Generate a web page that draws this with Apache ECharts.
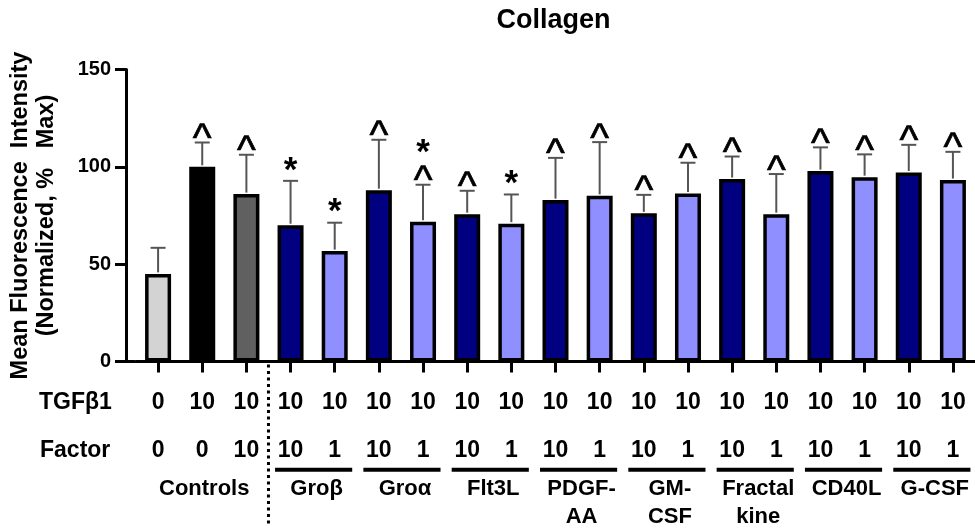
<!DOCTYPE html>
<html>
<head>
<meta charset="utf-8">
<script src="https://cdn.jsdelivr.net/npm/echarts@6/dist/echarts.min.js"></script>
<style>
html,body{margin:0;padding:0;background:#fff;}
#chart{width:975px;height:531px;}
</style>
</head>
<body>
<div id="chart"></div>
<script>
// ---- data ----
const categories = ['C1','C2','C3','Groβ10','Groβ1','Groα10','Groα1','Flt3L10','Flt3L1','PDGF10','PDGF1','GM10','GM1','Frac10','Frac1','CD40L10','CD40L1','GCSF10','GCSF1'];
const tgfRow    = ['0','10','10','10','10','10','10','10','10','10','10','10','10','10','10','10','10','10','10'];
const factorRow = ['0','0','10','10','1','10','1','10','1','10','1','10','1','10','1','10','1','10','1'];
const means  = [45, 100, 86, 70, 56.7, 88, 71.8, 75.7, 70.8, 82.9, 85.1, 76.1, 86.3, 93.7, 75.7, 97.8, 94.7, 97.1, 93.2];
const errors = [13.4, 12.5, 20.2, 22.8, 14.6, 25.9, 19.0, 12.0, 15.0, 21.7, 27.6, 9.5, 15.8, 11.6, 20.6, 12.2, 11.7, 14.2, 14.5];
const marks  = [[], ['^'], ['^'], ['*'], ['*'], ['^'], ['*','^'], ['^'], ['*'], ['^'], ['^'], ['^'], ['^'], ['^'], ['^'], ['^'], ['^'], ['^'], ['^']];
const groupNames = ['Controls','Groβ','Groα','Flt3L','PDGF-\nAA','GM-\nCSF','Fractal\nkine','CD40L','G-CSF'];
const groupFrom  = [0, 3, 5, 7, 9, 11, 13, 15, 17];
const groupTo    = [2, 4, 6, 8, 10, 12, 14, 16, 18];
const yTicks = [0, 50, 100, 150];

// ---- styles ----
const FONT = '"Liberation Sans", Arial, sans-serif';
const controlColors = ['#d3d3d3', '#000000', '#606060'];
const highDoseColor = '#000080';
const lowDoseColor = '#8f8fff';
function barColor(i) {
  if (i < 3) return controlColors[i];
  return factorRow[i] === '10' ? highDoseColor : lowDoseColor;
}

const chart = echarts.init(document.getElementById('chart'), null, {renderer: 'canvas'});

const option = {
  animation: false,
  backgroundColor: '#fff',
  grid: [
    {left: 133, right: -1.5, top: 69.5, bottom: 169.5},
    {left: 121.5, width: 13, top: 69.5, bottom: 169.5}
  ],
  xAxis: [
    {
      type: 'category', gridIndex: 0, data: categories,
      axisLine: {show: true, lineStyle: {color: '#000', width: 3}},
      axisTick: {show: true, alignWithLabel: true, length: 11, lineStyle: {color: '#000', width: 3}},
      axisLabel: {
        interval: 0, margin: 17.6, color: '#000',
        formatter: (v, i) => '{a|' + tgfRow[i] + '}\n{b|' + factorRow[i] + '}',
        rich: {
          a: {fontFamily: FONT, fontWeight: 'bold', fontSize: 23, lineHeight: 47.8, color: '#000'},
          b: {fontFamily: FONT, fontWeight: 'bold', fontSize: 23, lineHeight: 47.8, color: '#000'}
        }
      },
      splitLine: {show: false}
    },
    {
      type: 'value', gridIndex: 1, min: 0, max: 1,
      axisLine: {show: true, onZero: false, lineStyle: {color: '#000', width: 3}},
      axisTick: {show: false}, axisLabel: {show: false}, splitLine: {show: false}
    }
  ],
  yAxis: [
    {
      type: 'value', gridIndex: 0, min: 0, max: 150, interval: 50, offset: 10,
      axisLine: {show: true, lineStyle: {color: '#000', width: 3}},
      axisTick: {show: true, length: 11, lineStyle: {color: '#000', width: 3}},
      axisLabel: {margin: 15, color: '#000', fontFamily: FONT, fontWeight: 'bold', fontSize: 20,
        formatter: v => yTicks.includes(v) ? String(v) : ''},
      splitLine: {show: false},
      name: 'Mean Fluorescence  Intensity\n(Normalized, %   Max)',
      nameLocation: 'middle', nameRotate: 90, nameGap: 66,
      nameTextStyle: {color: '#000', fontFamily: FONT, fontWeight: 'bold', fontSize: 23.5, lineHeight: 26}
    },
    {type: 'value', gridIndex: 1, show: false, min: 0, max: 150}
  ],
  graphic: [
    {type: 'text', x: 553.5, y: 21, style: {text: 'Collagen', fill: '#000', font: 'bold 27px ' + FONT, textAlign: 'center', textVerticalAlign: 'middle'}},
    {type: 'text', x: 39, y: 403, style: {text: 'TGFβ1', fill: '#000', font: 'bold 23px ' + FONT, textAlign: 'left', textVerticalAlign: 'middle'}},
    {type: 'text', x: 40, y: 450.8, style: {text: 'Factor', fill: '#000', font: 'bold 23px ' + FONT, textAlign: 'left', textVerticalAlign: 'middle'}}
  ],
  series: [
    {
      type: 'bar', xAxisIndex: 0, yAxisIndex: 0,
      data: means.map((v, i) => ({value: v, itemStyle: {color: barColor(i)}})),
      barWidth: 26,
      itemStyle: {borderColor: '#000', borderWidth: 3.5},
      z: 2
    },
    {
      // error bars (upper only)
      type: 'custom', xAxisIndex: 0, yAxisIndex: 0, z: 3, clip: false,
      data: means.map((v, i) => [i, v, errors[i]]),
      renderItem: (params, api) => {
        const i = api.value(0), m = api.value(1), e = api.value(2);
        const p0 = api.coord([i, m]);
        const p1 = api.coord([i, m + e]);
        const st = {stroke: '#555', lineWidth: 2};
        return {type: 'group', children: [
          {type: 'line', shape: {x1: p0[0], y1: p0[1] - 1.5, x2: p1[0], y2: p1[1]}, style: st},
          {type: 'line', shape: {x1: p1[0] - 7.5, y1: p1[1], x2: p1[0] + 7.5, y2: p1[1]}, style: st}
        ]};
      }
    },
    {
      // significance marks
      type: 'custom', xAxisIndex: 0, yAxisIndex: 0, z: 4, clip: false,
      data: means.map((v, i) => [i, v + errors[i]]),
      renderItem: (params, api) => {
        const i = api.value(0);
        const p = api.coord([i, api.value(1)]);
        const list = marks[params.dataIndex];
        const children = [];
        let y = p[1];
        for (let k = list.length - 1; k >= 0; k--) {
          const s = list[k];
          const isCaret = s === '^';
          let cy;
          if (k === list.length - 1) cy = y - (isCaret ? 14.5 : 18);
          else cy = y - 25;
          y = cy;
          children.push({type: 'text', x: p[0], y: cy + (isCaret ? 12 : 8),
            style: {text: s, fill: '#000', textAlign: 'center', textVerticalAlign: 'middle',
              stroke: isCaret ? '#000' : null, lineWidth: isCaret ? 0.7 : 0,
              font: (isCaret ? 'normal 40px ' : 'bold 35px ') + FONT}});
        }
        return {type: 'group', children};
      }
    },
    {
      // control separator (dotted)
      type: 'custom', xAxisIndex: 0, yAxisIndex: 0, z: 4, clip: false,
      data: [[2, 3]],
      renderItem: (params, api) => {
        const a = api.coord([api.value(0), 0]);
        const b = api.coord([api.value(1), 0]);
        const x = (a[0] + b[0]) / 2;
        return {type: 'line', shape: {x1: x, y1: a[1] + 3, x2: x, y2: a[1] + 164},
          style: {stroke: '#000', lineWidth: 3, lineDash: [3, 3.5]}};
      }
    },
    {
      // group underlines and names
      type: 'custom', xAxisIndex: 0, yAxisIndex: 0, z: 4, clip: false,
      data: groupFrom.map((f, g) => [f, groupTo[g]]),
      renderItem: (params, api) => {
        const g = params.dataIndex;
        const a = api.coord([api.value(0), 0]);
        const b = api.coord([api.value(1), 0]);
        const children = [];
        if (g > 0) {
          children.push({type: 'line', shape: {x1: a[0] - 15.5, y1: a[1] + 108.2, x2: b[0] + 17.5, y2: a[1] + 108.2},
            style: {stroke: '#000', lineWidth: 4}});
        }
        children.push({type: 'text', x: (a[0] + b[0]) / 2 + (g > 0 ? 4 : 2), y: a[1] + 114,
          style: {text: groupNames[g], fill: '#000', textAlign: 'center', textVerticalAlign: 'top',
            font: 'bold 22px ' + FONT, lineHeight: 27.5}});
        return {type: 'group', children};
      }
    }
  ]
};
chart.setOption(option);
</script>
</body>
</html>
